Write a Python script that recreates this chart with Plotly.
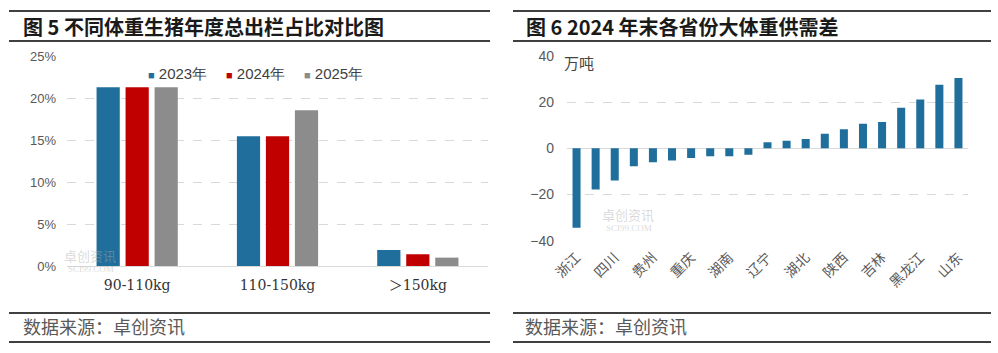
import plotly.graph_objects as go

W, H = 998, 353

# ---------------- data ----------------
weight_classes = ["90-110kg", "110-150kg", "＞150kg"]
years = ["2023年", "2024年", "2025年"]
share_2023 = [0.2135, 0.155, 0.019]
share_2024 = [0.2135, 0.155, 0.014]
share_2025 = [0.2135, 0.186, 0.010]
year_colors = ["#1F6E9C", "#C00000", "#8C8C8C"]

province_labels = ["浙江", "", "四川", "", "贵州", "", "重庆", "", "湖南", "",
                   "辽宁", "", "湖北", "", "陕西", "", "吉林", "", "黑龙江", "", "山东"]
supply_gap = [-34.4, -17.8, -13.9, -7.7, -6.0, -5.3, -4.2, -3.4, -3.4, -2.8,
              2.6, 3.3, 4.0, 6.3, 8.3, 10.7, 11.4, 17.6, 21.2, 27.5, 30.5]
y2_ticks = [-40, -20, 0, 20, 40]
y1_ticks = [0, 0.05, 0.10, 0.15, 0.20, 0.25]

# ---------------- helpers ----------------
def px_x(p):
    return p / W

def px_y(p):
    return 1 - p / H

CJK = "Noto Sans CJK SC"
fig = go.Figure()

for name, vals, col in zip(years, [share_2023, share_2024, share_2025], year_colors):
    fig.add_trace(go.Bar(x=weight_classes, y=vals, name=name, marker_color=col,
                         marker_line_width=0, xaxis="x", yaxis="y", showlegend=False))

positions = list(range(len(supply_gap)))
fig.add_trace(go.Bar(x=positions, y=supply_gap, marker_color="#1F6E9C", width=0.42,
                     marker_line_width=0, showlegend=False, xaxis="x2", yaxis="y2"))

grid = "#D9D9D9"

fig.update_layout(
    width=W, height=H, autosize=False,
    margin=dict(l=0, r=0, t=0, b=0, autoexpand=False),
    paper_bgcolor="white", plot_bgcolor="white",
    barmode="group", bargap=0.38, bargroupgap=0.2,
    font=dict(family=CJK, color="#333333"),
    showlegend=False,
    xaxis=dict(domain=[px_x(67), px_x(488)], anchor="y", showgrid=False, automargin=False,
               showline=True, linecolor=grid, linewidth=1, ticks="",
               tickfont=dict(family="DejaVu Serif, " + CJK, size=14, color="#333333"),
               ticklabelstandoff=6, fixedrange=True),
    yaxis=dict(domain=[px_y(266), px_y(56.7)], anchor="x", range=[0, 0.25], automargin=False,
               tickvals=y1_ticks, tickformat=".0%", showgrid=True, gridcolor=grid,
               griddash="dash", gridwidth=1, zeroline=False, showline=False,
               ticks="", tickfont=dict(family="Liberation Sans, Arial", size=13, color="#595959"),
               ticklabelstandoff=10),
    xaxis2=dict(domain=[px_x(567), px_x(968)], anchor="y2", showgrid=False, automargin=False,
                showline=False, ticks="", tickvals=positions, ticktext=province_labels,
                tickangle=-45, range=[-0.5, len(supply_gap) - 0.5], type="linear",
                tickfont=dict(family=CJK, size=14, color="#595959"),
                ticklabelstandoff=5),
    yaxis2=dict(domain=[px_y(240.7), px_y(56)], anchor="x2", range=[-40, 40], automargin=False,
                tickvals=y2_ticks, showgrid=True, gridcolor=grid, griddash="dash",
                gridwidth=1, zeroline=True, zerolinecolor=grid, zerolinewidth=1,
                ticks="", tickfont=dict(family="Liberation Sans, Arial", size=14, color="#595959"),
                ticklabelstandoff=12),
)

# ---------------- frame lines ----------------
shapes = []
for x0, x1 in [(9, 490), (513, 991)]:
    for yy in (11, 41, 313, 342):
        shapes.append(dict(type="line", xref="paper", yref="paper", x0=px_x(x0), x1=px_x(x1),
                           y0=px_y(yy), y1=px_y(yy), line=dict(color="#404040", width=2)))
fig.update_layout(shapes=shapes)

ann = []
ann.append(dict(text="<b>图 5 不同体重生猪年度总出栏占比对比图</b>", x=px_x(21), y=px_y(26.5),
                xref="paper", yref="paper", xanchor="left", yanchor="middle", showarrow=False,
                font=dict(family=CJK, size=20, color="#1a1a1a")))
ann.append(dict(text="<b>图 6 2024 年末各省份大体重供需差</b>", x=px_x(524), y=px_y(26.5),
                xref="paper", yref="paper", xanchor="left", yanchor="middle", showarrow=False,
                font=dict(family=CJK, size=20, color="#1a1a1a")))
for x in (21, 523):
    ann.append(dict(text="数据来源：卓创资讯", x=px_x(x), y=px_y(326), xref="paper", yref="paper",
                    xanchor="left", yanchor="middle", showarrow=False,
                    font=dict(family=CJK, size=18, color="#595959")))
ann.append(dict(text="万吨", x=px_x(562), y=px_y(63), xref="paper", yref="paper",
                xanchor="left", yanchor="middle", showarrow=False,
                font=dict(family=CJK, size=15, color="#444444")))

# legend built from the series names and colours
legend_x = [146, 224, 302]
for name, col, lx in zip(years, year_colors, legend_x):
    ann.append(dict(text=f"<span style='color:{col};font-size:11px'>■</span> {name}",
                    x=px_x(lx), y=px_y(73),
                    xref="paper", yref="paper", xanchor="left", yanchor="middle", showarrow=False,
                    font=dict(family="Liberation Sans, Arial", size=15, color="#404040")))

# faint watermarks
for (x, y) in [(62, 255), (600, 214)]:
    ann.append(dict(text="卓创资讯", x=px_x(x), y=px_y(y), xref="paper", yref="paper",
                    xanchor="left", yanchor="middle", showarrow=False,
                    font=dict(family=CJK, size=13, color="rgba(170,170,170,0.45)")))
    ann.append(dict(text="SCI99.COM", x=px_x(x + 4), y=px_y(y + 14), xref="paper", yref="paper",
                    xanchor="left", yanchor="middle", showarrow=False,
                    font=dict(family="Liberation Serif", size=9, color="rgba(170,170,170,0.45)")))
fig.update_layout(annotations=ann)

fig.write_html("out.html")
